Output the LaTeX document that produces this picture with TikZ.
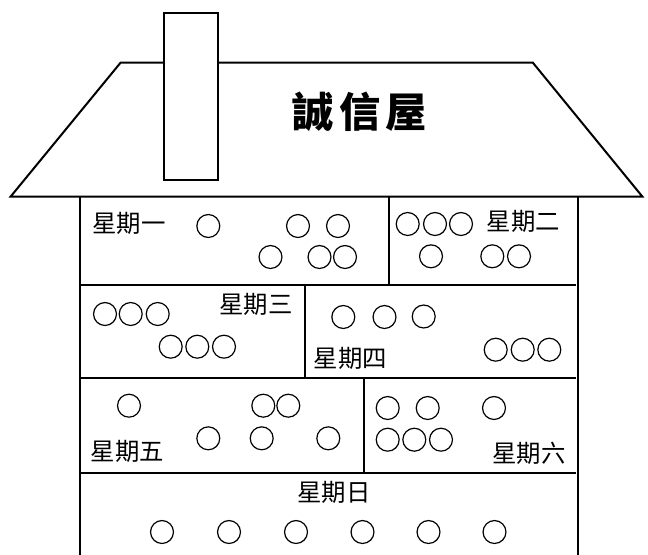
\documentclass[tikz,border=0pt]{standalone}
\usepackage{fontspec}
\setmainfont{Noto Sans CJK TC}
\newfontfamily\titlefont{Noto Sans CJK TC}
\begin{document}
\begin{tikzpicture}[x=0.75pt,y=-0.75pt,
  wall/.style={line width=1.5pt, line join=miter},
  dot/.style={circle,draw,line width=0.9pt,minimum size=17.2pt,inner sep=0pt},
  day/.style={font=\fontsize{18.3pt}{19pt}\selectfont,inner sep=0pt},
  title/.style={font=\titlefont\bfseries\fontsize{31pt}{33pt}\selectfont,inner sep=0pt}]
\useasboundingbox (0,0) rectangle (648,554);
% roof
\draw[wall] (10.7,196.5) -- (120.7,62.5) -- (532.7,62.5) -- (642.3,196.5) -- cycle;
% chimney
\draw[wall,fill=white] (164,13.3) rectangle (218.3,180);
% walls
\draw[wall] (80,196.5) -- (80,557);
\draw[wall] (578,196.5) -- (578,557);
% horizontal dividers
\draw[wall] (80,285) -- (576,285);
\draw[wall] (80,377.5) -- (576,377.5);
\draw[wall] (80,472.7) -- (576,472.7);
% vertical dividers
\draw[wall] (389,196.5) -- (389,285);
\draw[wall] (304.5,285) -- (304.5,378);
\draw[wall] (363.5,378) -- (363.5,473);
% title
\node[title] (t) at (359.7,111.5) {誠\hspace{4pt}信\hspace{4pt}屋};
% day labels
\node[day] (d1) at (129,223) {星期一};
\node[day] (d2) at (523.5,221) {星期二};
\node[day] (d3) at (255.8,304.7) {星期三};
\node[day] (d4) at (350.5,358) {星期四};
\node[day] (d5) at (127.5,451.7) {星期五};
\node[day] (d6) at (529,453.3) {星期六};
\node[day] (d7) at (334,492) {星期日};
% circles
\foreach \x/\y [count=\i] in {
  208.3/226, 298/226, 338/226, 270.5/257, 319.5/257, 345/257,
  407.7/224, 435/224, 461/224, 431/256.3, 492.3/256.3, 519/256.3,
  105/314, 130.7/314, 157.7/314, 170.7/346.7, 197.3/346.7, 224/346.7,
  343.3/317, 384.5/317, 423.7/316.5, 495.7/349.7, 522.7/349.7, 549.3/349.7,
  129/405.7, 263.3/405.7, 288.3/405.7, 208.3/438.3, 261.7/438.3, 328.3/438.3,
  387.7/408, 427.7/408, 494/408, 387.7/439.7, 414.3/439.7, 441/439.7,
  162/532, 229/532, 296/532, 362.5/532, 428.5/532, 494.5/532}
  \node[dot] (c\i) at (\x,\y) {};
\end{tikzpicture}
\end{document}
